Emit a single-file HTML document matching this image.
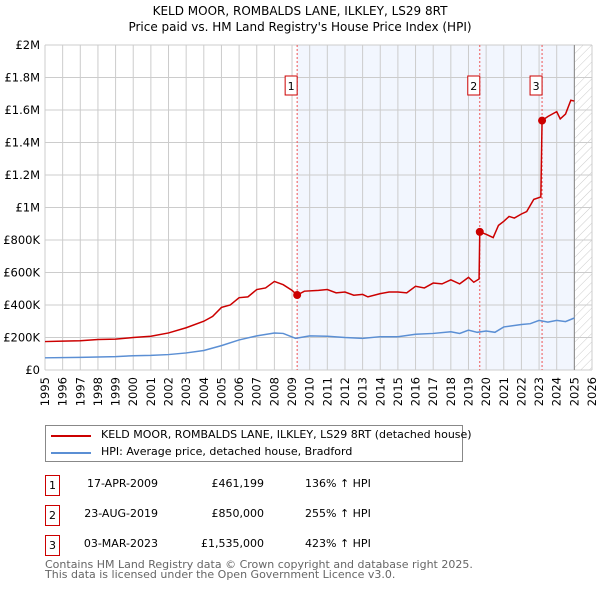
<!DOCTYPE html>
<html><head><meta charset="utf-8"><style>
body{margin:0;width:600px;height:590px;background:#fff;font-family:"DejaVu Sans","Liberation Sans",sans-serif;overflow:hidden;position:relative}
.t{position:absolute;white-space:nowrap}
.box{position:absolute;border:1px solid #c00;width:13px;height:19px;font-size:11px;text-align:center;line-height:19px}
</style></head><body>
<div class="t" style="left:0;width:600px;text-align:center;top:4px;font-size:12px">KELD MOOR, ROMBALDS LANE, ILKLEY, LS29 8RT</div>
<div class="t" style="left:0;width:600px;text-align:center;top:20px;font-size:12px">Price paid vs. HM Land Registry's House Price Index (HPI)</div>
<svg id="chart" width="600" height="410" style="position:absolute;left:0;top:0" font-family="DejaVu Sans, Liberation Sans, sans-serif"></svg>
<div style="position:absolute;left:45px;top:425px;width:416px;height:35px;border:1px solid #888;font-size:11px">
<div style="position:absolute;left:5px;top:9px;width:40px;height:2px;background:#c00"></div>
<div class="t" style="left:55px;top:2px">KELD MOOR, ROMBALDS LANE, ILKLEY, LS29 8RT (detached house)</div>
<div style="position:absolute;left:5px;top:26px;width:40px;height:2px;background:#5b8fd4"></div>
<div class="t" style="left:55px;top:19px">HPI: Average price, detached house, Bradford</div>
</div>
<div id="tbl" style="font-size:11px"></div>
<div class="t" style="left:45px;top:560px;font-size:11px;color:#666;line-height:10px">Contains HM Land Registry data © Crown copyright and database right 2025.<br>This data is licensed under the Open Government Licence v3.0.</div>
<script>
const redX=[1995,1996,1997,1998,1999,2000,2001,2002,2003,2004,2004.5,2005,2005.5,2006,2006.5,2007,2007.5,2008,2008.5,2009,2009.29,2009.7,2010.5,2011,2011.5,2012,2012.5,2013,2013.3,2014,2014.5,2015,2015.5,2016,2016.5,2017,2017.5,2018,2018.5,2019,2019.3,2019.6,2019.64,2020,2020.4,2020.7,2021,2021.3,2021.6,2022,2022.3,2022.7,2023.1,2023.17,2023.5,2024,2024.2,2024.5,2024.8,2025];
const redY=[175,178,180,188,190,200,208,228,260,300,330,385,400,445,450,495,505,545,525,490,461,485,490,495,475,480,460,465,450,470,480,480,475,515,505,535,530,555,530,570,540,560,850,835,815,890,915,945,935,960,975,1050,1065,1535,1560,1590,1545,1575,1660,1655];
const hpiX=[1995,1997,1999,2000,2001,2002,2003,2004,2005,2006,2007,2008,2008.5,2009.2,2010,2011,2012,2013,2014,2015,2016,2017,2018,2018.5,2019,2019.5,2020,2020.5,2021,2022,2022.5,2023,2023.5,2024,2024.5,2025];
const hpiY=[75,78,82,88,90,95,105,120,150,185,210,228,225,195,210,208,200,195,205,205,220,225,235,225,245,232,240,232,265,280,285,305,295,305,298,320];
const saleX=[2009.29,2019.64,2023.17];
const saleY=[461.199,850,1535];
const saleLabels=["1","2","3"];
const saleDates=["17-APR-2009","23-AUG-2019","03-MAR-2023"];
const salePrices=["£461,199","£850,000","£1,535,000"];
const salePct=["136% ↑ HPI","255% ↑ HPI","423% ↑ HPI"];
const yTicks=[0,200,400,600,800,1000,1200,1400,1600,1800,2000];
const yTickLabels=["£0","£200K","£400K","£600K","£800K","£1M","£1.2M","£1.4M","£1.6M","£1.8M","£2M"];
const X0=45,X1=592,Y0=370,Y1=45;
const sx=y=>X0+(y-1995)/(2026-1995)*(X1-X0);
const sy=v=>Y0-v/2000*(Y0-Y1);
const svg=document.getElementById('chart');const NS='http://www.w3.org/2000/svg';
function mk(t,a,p){const e=document.createElementNS(NS,t);for(const k in a)e.setAttribute(k,a[k]);(p||svg).appendChild(e);return e;}
const defs=mk('defs',{});
const pat=mk('pattern',{id:'hatch',width:6,height:6,patternUnits:'userSpaceOnUse',patternTransform:'rotate(45)'},defs);
mk('line',{x1:0,y1:0,x2:0,y2:6,stroke:'#ccc','stroke-width':1},pat);
let r=mk('rect',{x:sx(saleX[0]),y:Y1,width:sx(2025)-sx(saleX[0]),height:Y0-Y1,fill:'#eef3fd',opacity:0.75});

r=mk('rect',{x:sx(2025),y:Y1,width:X1-sx(2025),height:Y0-Y1,fill:'url(#hatch)'});

for(let y=1995;y<=2026;y++){
 mk('line',{x1:sx(y),x2:sx(y),y1:Y1,y2:Y0,stroke:'#ccc','stroke-width':1});
 const t=mk('text',{x:0,y:0,'font-size':11.5,'text-anchor':'end',transform:`translate(${sx(y)+4},${Y0+7}) rotate(-90)`});
 t.textContent=y;
}
yTicks.forEach((v,i)=>{
 mk('line',{x1:X0,x2:X1,y1:sy(v),y2:sy(v),stroke:'#ccc','stroke-width':1});
 const t=mk('text',{x:X0-5,y:sy(v)+4,'font-size':11.5,'text-anchor':'end'});
 t.textContent=yTickLabels[i];
});
mk('line',{x1:sx(2025),x2:sx(2025),y1:Y1,y2:Y0,stroke:'#888','stroke-width':1});
saleX.forEach((x,i)=>{
 mk('line',{x1:sx(x),x2:sx(x),y1:Y1,y2:Y0,stroke:'#e55','stroke-width':1,'stroke-dasharray':'2,2'});
});
let p=mk('polyline',{points:hpiX.map((x,i)=>sx(x)+','+sy(hpiY[i])).join(' '),fill:'none',stroke:'#5b8fd4','stroke-width':1.5});

p=mk('polyline',{points:redX.map((x,i)=>sx(x)+','+sy(redY[i])).join(' '),fill:'none',stroke:'#c00','stroke-width':1.5});

saleX.forEach((x,i)=>{
 const c=mk('circle',{cx:sx(x),cy:sy(saleY[i]),r:4,fill:'#c00'});
 
 mk('rect',{x:sx(x)-12,y:76,width:12,height:19,fill:'#fff',stroke:'#c00'});
 const t=mk('text',{x:sx(x)-6,y:90,'font-size':11,'text-anchor':'middle'});
 t.textContent=saleLabels[i];
});
const tbl=document.getElementById('tbl');
saleX.forEach((x,i)=>{
 const top=475+i*30;
 const row=document.createElement('div');
 
 
 row.innerHTML=`<div class="box" style="left:45px;top:${top}px;position:absolute">${saleLabels[i]}</div>
 <div class="t" style="left:70px;width:88px;text-align:right;top:${top+2}px">${saleDates[i]}</div>
 <div class="t" style="left:170px;width:94px;text-align:right;top:${top+2}px">${salePrices[i]}</div>
 <div class="t" style="left:305px;top:${top+2}px">${salePct[i]}</div>`;
 tbl.appendChild(row);
});
</script>
</body></html>
